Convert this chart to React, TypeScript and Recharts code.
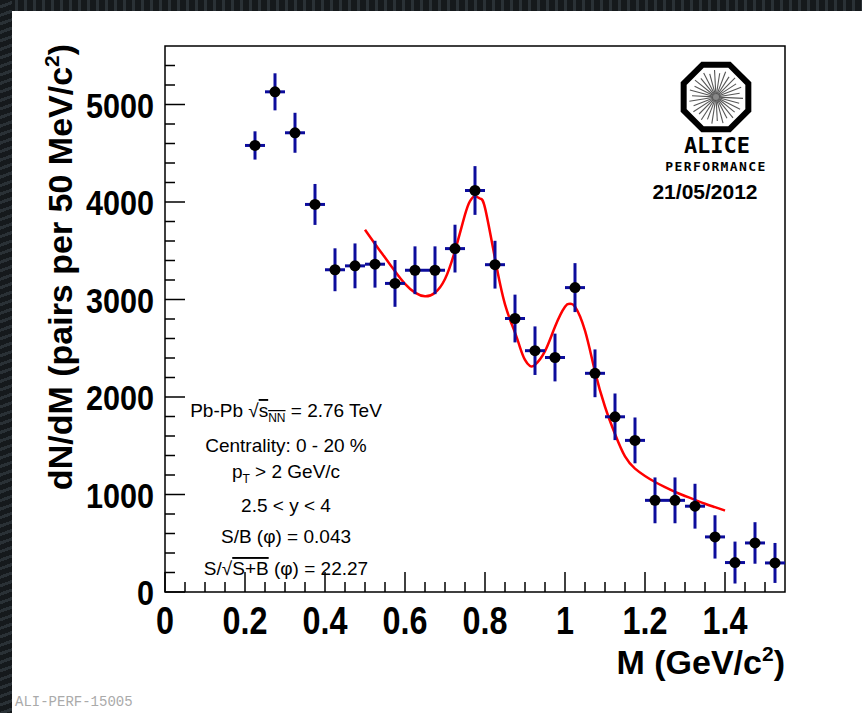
import { ComposedChart, XAxis, YAxis, Scatter, Line, ErrorBar, ReferenceArea } from "recharts"

const massBins = [
  0.225, 0.275, 0.325, 0.375, 0.425, 0.475, 0.525, 0.575, 0.625, 0.675, 0.725, 0.775, 0.825, 0.875,
  0.925, 0.975, 1.025, 1.075, 1.125, 1.175, 1.225, 1.275, 1.325, 1.375, 1.425, 1.475, 1.525,
]
const pairCounts = [
  4580, 5130, 4710, 3975, 3305, 3345, 3362, 3165, 3300, 3300, 3522, 4118, 3357, 2805,
  2475, 2405, 3122, 2243, 1797, 1555, 940, 940, 880, 565, 302, 503, 298,
]
const statErrors = [
  145, 190, 205, 210, 220, 230, 240, 240, 245, 245, 245, 250, 245, 245,
  249, 245, 251, 245, 239, 235, 235, 235, 230, 222, 215, 213, 205,
]
const binHalfWidth = 0.025

// fit curve
const fitMass = [
  0.5, 0.525, 0.55, 0.575, 0.6, 0.625, 0.65, 0.675, 0.7, 0.725, 0.75, 0.7625, 0.775, 0.7875, 0.8,
  0.825, 0.85, 0.875, 0.8875, 0.9, 0.9125, 0.925, 0.95, 0.975, 1.0, 1.0125, 1.025, 1.05, 1.075,
  1.1, 1.125, 1.15, 1.175, 1.2, 1.225, 1.25, 1.275, 1.3, 1.325, 1.35, 1.375, 1.4,
]
const fitYield = [
  3715, 3570, 3430, 3290, 3160, 3070, 3033, 3070, 3210, 3500, 3870, 4010, 4060, 4035, 3940,
  3420, 2950, 2660, 2510, 2380, 2318, 2330, 2470, 2720, 2925, 2955, 2925, 2680, 2260,
  1900, 1620, 1390, 1265, 1190, 1128, 1075, 1027, 985, 945, 905, 870, 835,
]

const xTicks = [
  0, 0.05, 0.1, 0.15, 0.2, 0.25, 0.3, 0.35, 0.4, 0.45, 0.5, 0.55, 0.6, 0.65, 0.7, 0.75, 0.8, 0.85,
  0.9, 0.95, 1, 1.05, 1.1, 1.15, 1.2, 1.25, 1.3, 1.35, 1.4, 1.45, 1.5,
]
const xMajorTicks = [0, 0.2, 0.4, 0.6, 0.8, 1, 1.2, 1.4]
const yTicks = [
  0, 200, 400, 600, 800, 1000, 1200, 1400, 1600, 1800, 2000, 2200, 2400, 2600, 2800, 3000, 3200,
  3400, 3600, 3800, 4000, 4200, 4400, 4600, 4800, 5000, 5200, 5400,
]
const yMajorTicks = [0, 1000, 2000, 3000, 4000, 5000]

const points = massBins.map((m, i) => ({ x: m, y: pairCounts[i], ey: statErrors[i], ex: binHalfWidth }))
const fit = fitMass.map((m, i) => ({ x: m, y: fitYield[i] }))

const sans = "'Liberation Sans', Arial, sans-serif"
const mono = "'DejaVu Sans Mono', monospace"

function XTick(props: any) {
  const { x, y, payload } = props
  const major = xMajorTicks.includes(payload.value)
  return (
    <g>
      <line x1={x} y1={y} x2={x} y2={y - (major ? 20 : 10)} stroke="#000" strokeWidth={1.5} />
      {major && (
        <text transform={`translate(${x},${y + 42}) scale(0.83,1)`} textAnchor="middle"
          fontSize={39} fontWeight="bold" fontFamily={sans} fill="#000">
          {String(payload.value)}
        </text>
      )}
    </g>
  )
}

function YTick(props: any) {
  const { x, y, payload } = props
  const major = yMajorTicks.includes(payload.value)
  return (
    <g>
      <line x1={x} y1={y} x2={x + (major ? 20 : 10)} y2={y} stroke="#000" strokeWidth={1.5} />
      {major && (
        <text transform={`translate(${x - 11},${y + 13}) scale(0.85,1)`} textAnchor="end"
          fontSize={36} fontWeight="bold" fontFamily={sans} fill="#000">
          {String(payload.value)}
        </text>
      )}
    </g>
  )
}

function Dot(props: any) {
  return <circle cx={props.cx} cy={props.cy} r={5.5} fill="#000" />
}

function AliceLogo() {
  const cx = 716
  const cy = 97
  const R = 35
  const oct = Array.from({ length: 8 }, (_, k) => {
    const a = ((22.5 + 45 * k) * Math.PI) / 180
    return `${cx + R * Math.cos(a)},${cy + R * Math.sin(a)}`
  }).join(" ")
  const spokes = Array.from({ length: 30 }, (_, k) => (k * 2 * Math.PI) / 30 + 0.05)
  return (
    <g>
      <polygon points={oct} fill="#fff" stroke="#000" strokeWidth={6} strokeLinejoin="miter" />
      {spokes.map((a, i) => (
        <line key={i} x1={cx + 2 * Math.cos(a)} y1={cy + 2 * Math.sin(a)}
          x2={cx + (i % 2 ? 24 : 27) * Math.cos(a)} y2={cy + (i % 2 ? 24 : 27) * Math.sin(a)}
          stroke="#555" strokeWidth={1.1} />
      ))}
      <circle cx={cx} cy={cy} r={3} fill="#888" />
      <text x={717} y={153} textAnchor="middle" fontSize={22} fontWeight="bold" fontFamily={mono}>ALICE</text>
      <text x={716} y={171} textAnchor="middle" fontSize={13} fontWeight="bold" letterSpacing={1.4}
        fontFamily={mono}>PERFORMANCE</text>
      <text x={705} y={199} textAnchor="middle" fontSize={21} fontWeight="bold" fontFamily={sans}>21/05/2012</text>
    </g>
  )
}

export default function App() {
  const boxX = 286
  return (
    <div style={{ position: "relative", width: 862, height: 713, background: "#fff", overflow: "hidden" }}>
      <style>{"body{margin:0}"}</style>
      <ComposedChart width={862} height={713} margin={{ top: 46, right: 77, bottom: 61, left: 105 }}>
        <XAxis type="number" dataKey="x" domain={[0, 1.55]} ticks={xTicks} interval={0}
          allowDataOverflow height={60} tickSize={0} tickMargin={0} tickLine={false} axisLine={false}
          tick={<XTick />} />
        <YAxis type="number" dataKey="y" domain={[0, 5600]} ticks={yTicks} interval={0}
          allowDataOverflow width={60} tickSize={0} tickMargin={0} tickLine={false} axisLine={false}
          tick={<YTick />} />
        <ReferenceArea x1={0} x2={1.55} y1={0} y2={5600} fill="none" stroke="#000" strokeWidth={1.5}
          ifOverflow="visible" />
        <Line data={fit} dataKey="y" type="natural" stroke="#ff0000" strokeWidth={2.5} dot={false}
          activeDot={false} isAnimationActive={false} />
        <Scatter data={points} dataKey="y" shape={<Dot />} isAnimationActive={false}>
          <ErrorBar dataKey="ey" direction="y" width={0} stroke="#0c0c9c" strokeWidth={3} />
          <ErrorBar dataKey="ex" direction="x" width={0} stroke="#0c0c9c" strokeWidth={3} />
        </Scatter>
      </ComposedChart>
      <svg width={862} height={713} style={{ position: "absolute", left: 0, top: 0, pointerEvents: "none" }}>
        <text transform="translate(72,267) rotate(-90)" textAnchor="middle" fontSize={34} fontWeight="bold"
          fontFamily={sans}>
          dN/dM (pairs per 50 MeV/c<tspan dy={-13} fontSize={21}>2</tspan>
          <tspan dy={13}>)</tspan>
        </text>
        <text x={785} y={674} textAnchor="end" fontSize={34} fontWeight="bold" fontFamily={sans}>
          M (GeV/c<tspan dy={-13} fontSize={21}>2</tspan>
          <tspan dy={13}>)</tspan>
        </text>
        <g fontFamily={sans} fontSize={19} textAnchor="middle" fill="#000">
          <text x={boxX} y={417}>
            Pb-Pb  √<tspan style={{ textDecoration: "overline" }}>s</tspan>
            <tspan dy={5} fontSize={12} style={{ textDecoration: "overline" }}>NN</tspan>
            <tspan dy={-5}> = 2.76 TeV</tspan>
          </text>
          <text x={boxX} y={452}>Centrality: 0 - 20 %</text>
          <text x={boxX} y={478}>
            p<tspan dy={5} fontSize={12}>T</tspan>
            <tspan dy={-5}> &gt; 2 GeV/c</tspan>
          </text>
          <text x={boxX} y={512}>2.5 &lt; y &lt; 4</text>
          <text x={boxX} y={543}>S/B (φ) = 0.043</text>
          <text x={boxX} y={575}>
            S/√<tspan style={{ textDecoration: "overline" }}>S+B</tspan> (φ) = 22.27
          </text>
        </g>
        <AliceLogo />
        <text x={15} y={706} fontSize={14} fontFamily="'Liberation Mono', monospace" fill="#aaa">ALI-PERF-15005</text>
      </svg>
      <div style={{ position: "absolute", left: 0, top: 0, width: 862, height: 11,
        background: "repeating-linear-gradient(90deg,#15191c 0 6px,#2a3136 6px 9px)" }} />
      <div style={{ position: "absolute", left: 0, top: 0, width: 12, height: 713,
        background: "repeating-linear-gradient(160deg,#15191c 0 5px,#2a3136 5px 8px)" }} />
    </div>
  )
}
